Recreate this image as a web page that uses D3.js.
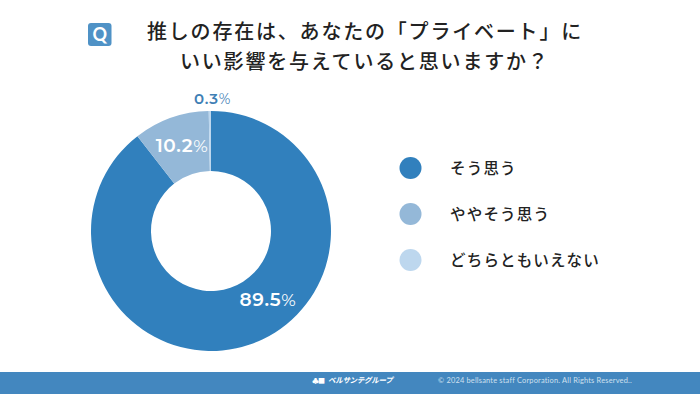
<!DOCTYPE html>
<html>
<head>
<meta charset="utf-8">
<script src="https://cdn.jsdelivr.net/npm/d3@7"></script>
<style>
  html, body { margin: 0; padding: 0; background: #fff; }
  svg { display: block; }
  text { font-family: "Noto Sans CJK JP", sans-serif; }
  .pct { font-family: Montserrat, Lato, "Open Sans", sans-serif; font-weight: 600; }
</style>
</head>
<body>
<div id="chart"></div>
<script>
const categories = ["そう思う", "ややそう思う", "どちらともいえない"];
const values = [89.5, 10.2, 0.3];
const valueLabels = ["89.5", "10.2", "0.3"];
const colours = ["#3180bd", "#94b8d8", "#bdd7ee"];
const titleLines = ["推しの存在は、あなたの「プライベート」に", "いい影響を与えていると思いますか？"];

const width = 700;
const height = 394;
const barColour = "#4387bf";

const svg = d3.select("#chart").append("svg")
  .attr("width", width)
  .attr("height", height);

// Q badge
svg.append("rect")
  .attr("x", 88).attr("y", 23)
  .attr("width", 23.5).attr("height", 23)
  .attr("rx", 3)
  .attr("fill", "#4f92c6");
svg.append("text")
  .attr("x", 99.8).attr("y", 40.5)
  .attr("text-anchor", "middle")
  .attr("fill", "#fff")
  .style("font-family", "Lato, sans-serif")
  .style("font-weight", 700)
  .style("font-size", "18px")
  .text("Q");

// title
svg.selectAll(".title")
  .data(titleLines)
  .enter()
  .append("text")
  .attr("class", "title")
  .attr("x", (d, i) => (i === 0 ? 147 : 180))
  .attr("y", (d, i) => (i === 0 ? 38.5 : 68.5))
  .attr("fill", "#222")
  .style("font-size", "20px")
  .style("font-weight", 500)
  .style("letter-spacing", "1.8px")
  .text((d) => d);

// donut
const cx = 211;
const cy = 231;
const pie = d3.pie().sort(null)(values);
const arc = d3.arc().innerRadius(60).outerRadius(120);

const donut = svg.append("g").attr("transform", `translate(${cx},${cy})`);
donut.selectAll("path")
  .data(pie)
  .enter()
  .append("path")
  .attr("d", arc)
  .attr("fill", (d, i) => colours[i]);

// value labels, offsets from the ring centre as in the picture
const labelPos = [[57, 75], [-29, -79], [1.5, -127]];
const labelFill = ["#fff", "#fff", "#3f80b5"];
const labelSize = [18.5, 18.5, 15];
const labels = donut.selectAll(".pct")
  .data(valueLabels)
  .enter()
  .append("text")
  .attr("class", "pct")
  .attr("x", (d, i) => labelPos[i][0])
  .attr("y", (d, i) => labelPos[i][1])
  .attr("text-anchor", "middle")
  .attr("fill", (d, i) => labelFill[i])
  .style("font-size", (d, i) => labelSize[i] + "px")
  .style("letter-spacing", "0.7px")
  .text((d) => d);
labels.append("tspan")
  .style("font-weight", 400)
  .style("font-size", (d, i) => labelSize[i] - 1 + "px")
  .text("%");

// legend
const legendY = d3.scalePoint().domain(categories).range([168, 260]);
const legend = svg.selectAll(".legend")
  .data(categories)
  .enter()
  .append("g")
  .attr("class", "legend")
  .attr("transform", (d) => `translate(0,${legendY(d)})`);
legend.append("circle")
  .attr("cx", 410.5)
  .attr("r", 11)
  .attr("fill", (d, i) => colours[i]);
legend.append("text")
  .attr("x", 450)
  .attr("y", 6)
  .attr("fill", "#222")
  .style("font-size", "15.5px")
  .style("font-weight", 500)
  .style("letter-spacing", "1.2px")
  .text((d) => d);

// footer
svg.append("rect")
  .attr("x", 0).attr("y", 372)
  .attr("width", width).attr("height", 22)
  .attr("fill", barColour);
svg.append("text")
  .attr("x", 312).attr("y", 383)
  .attr("fill", "#fff")
  .style("font-size", "7px")
  .style("font-weight", 900)
  .style("letter-spacing", "-1px")
  .text("♣■");
svg.append("text")
  .attr("x", 328).attr("y", 383)
  .attr("fill", "#fff")
  .style("font-size", "7.5px")
  .style("font-weight", 700)
  .style("font-style", "italic")
  .style("letter-spacing", "-0.3px")
  .text("ベルサンテグループ");
svg.append("text")
  .attr("x", 438).attr("y", 382.5)
  .attr("fill", "#cfe0ef")
  .style("font-family", "Lato, sans-serif")
  .style("font-size", "7.4px")
  .style("letter-spacing", "0.2px")
  .text("© 2024 bellsante staff Corporation. All Rights Reserved..");
</script>
</body>
</html>
